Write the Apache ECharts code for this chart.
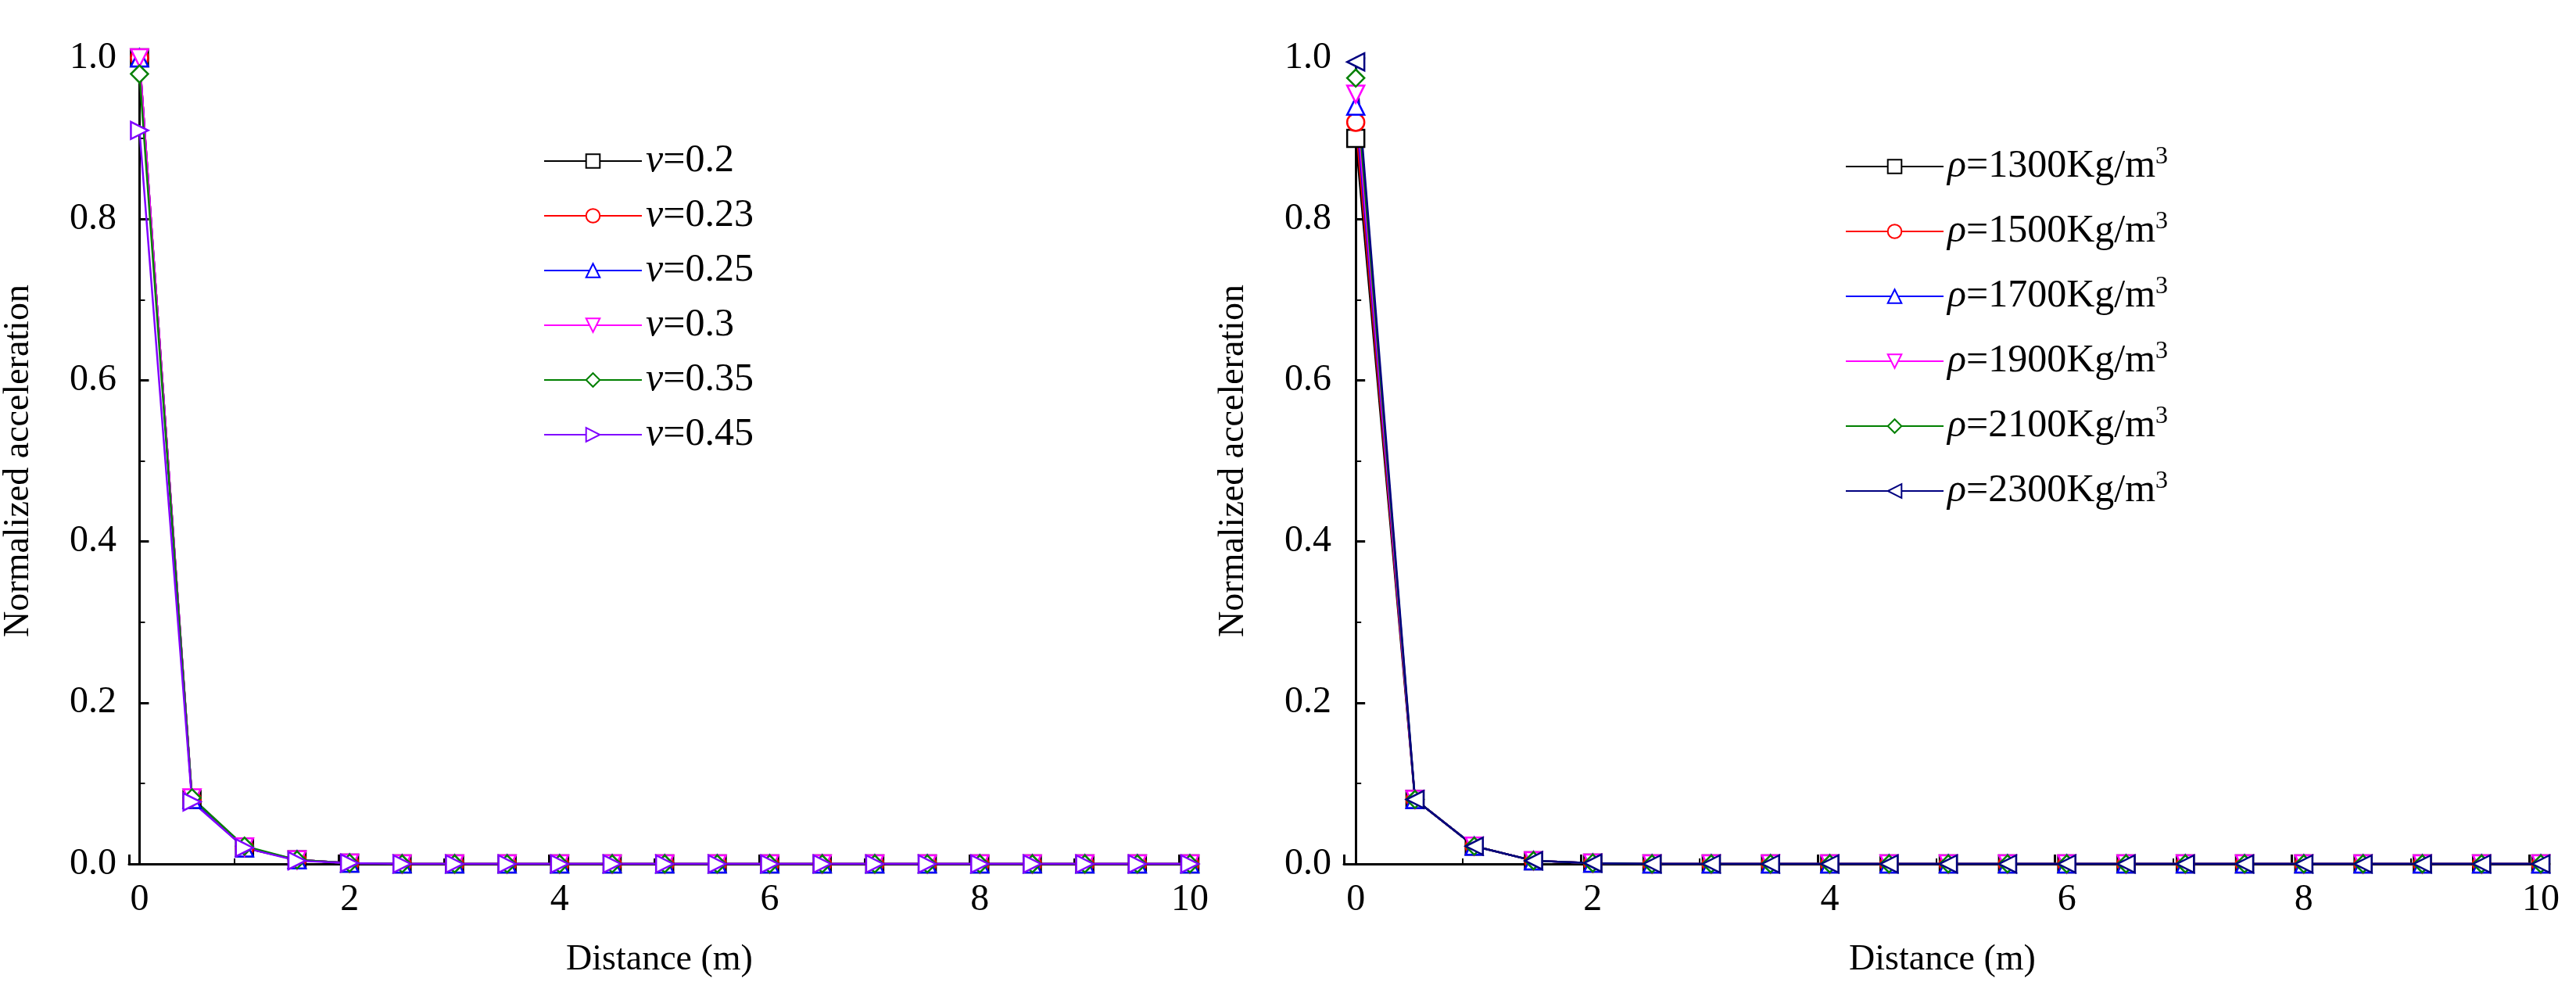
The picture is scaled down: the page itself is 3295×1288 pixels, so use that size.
<!DOCTYPE html>
<html><head><meta charset="utf-8">
<script src="https://cdn.jsdelivr.net/npm/echarts@6/dist/echarts.min.js"></script>
<style>html,body{margin:0;background:#fff}#c{width:3295px;height:1288px}</style>
</head><body><div id="c"></div>
<script>
const distances = [0,0.5,1,1.5,2,2.5,3,3.5,4,4.5,5,5.5,6,6.5,7,7.5,8,8.5,9,9.5,10];
const tail = [0,0,0,0,0,0,0,0,0,0,0,0,0,0,0,0];
const leftNames = ['0.2','0.23','0.25','0.3','0.35','0.45'];
const leftValues = [
  [1.0,0.08,0.02,0.005,0.001].concat(tail),
  [1.0,0.08,0.02,0.005,0.001].concat(tail),
  [1.0,0.08,0.02,0.005,0.001].concat(tail),
  [1.0,0.082,0.021,0.005,0.001].concat(tail),
  [0.98,0.082,0.022,0.005,0.001].concat(tail),
  [0.91,0.077,0.02,0.004,0.001].concat(tail)
];
const rightNames = ['1300','1500','1700','1900','2100','2300'];
const rightValues = [
  [0.90,0.08,0.022,0.004,0.001].concat(tail),
  [0.92,0.08,0.022,0.004,0.001].concat(tail),
  [0.94,0.08,0.022,0.004,0.001].concat(tail),
  [0.955,0.08,0.022,0.004,0.001].concat(tail),
  [0.975,0.08,0.022,0.004,0.001].concat(tail),
  [0.995,0.08,0.022,0.004,0.001].concat(tail)
];
const leftColors = ['#000000','#ff0000','#0000ff','#ff00ff','#008000','#8000ff'];
const rightColors = ['#000000','#ff0000','#0000ff','#ff00ff','#008000','#000080'];
const symbols = ['rect','circle','triangle','path://M0,0 L10,0 L5,9 Z','diamond','path://M0,0 L9,5 L0,10 Z'];
const rightSymbols = ['rect','circle','triangle','path://M0,0 L10,0 L5,9 Z','diamond','path://M9,0 L0,5 L9,10 Z'];

const font = 'Liberation Serif';
function xAxis(gi){return {type:'value',gridIndex:gi,min:-0.1,max:10,interval:2,
  name:'Distance (m)',nameLocation:'middle',nameGap:100,nameTextStyle:{fontFamily:font,fontSize:46,color:'#000'},
  axisLine:{lineStyle:{color:'#000',width:3}},axisTick:{inside:true,length:12,lineStyle:{width:3}},
  minorTick:{show:true,splitNumber:2,length:7,lineStyle:{color:'#000',width:2}},
  axisLabel:{fontFamily:font,fontSize:48,color:'#000',margin:22,customValues:[0,2,4,6,8,10]},
  splitLine:{show:false}};}
function yAxis(gi){return {type:'value',gridIndex:gi,min:0,max:1,interval:0.2,
  name:'Normalized acceleration',nameLocation:'middle',nameGap:118,nameTextStyle:{fontFamily:font,fontSize:46,color:'#000'},
  axisLine:{show:true,lineStyle:{color:'#000',width:3}},axisTick:{inside:true,length:12,lineStyle:{width:3}},
  minorTick:{show:true,splitNumber:2,length:7,lineStyle:{color:'#000',width:2}},
  axisLabel:{fontFamily:font,fontSize:48,color:'#000',margin:16,formatter:v=>v.toFixed(1)},splitLine:{show:false}};}

const series=[];
leftNames.forEach((n,i)=>series.push({name:'L'+i,type:'line',xAxisIndex:0,yAxisIndex:0,
  data:distances.map((d,k)=>[d,leftValues[i][k]]),symbol:symbols[i],symbolSize:22,
  lineStyle:{color:leftColors[i],width:2.5},itemStyle:{color:'#fff',borderColor:leftColors[i],borderWidth:2.5},color:leftColors[i]}));
rightNames.forEach((n,i)=>series.push({name:'R'+i,type:'line',xAxisIndex:1,yAxisIndex:1,
  data:distances.map((d,k)=>[d,rightValues[i][k]]),symbol:rightSymbols[i],symbolSize:22,
  lineStyle:{color:rightColors[i],width:2.5},itemStyle:{color:'#fff',borderColor:rightColors[i],borderWidth:2.5},color:rightColors[i]}));

const rich={i:{fontStyle:'italic',fontFamily:font,fontSize:50,color:'#000'},
  t:{fontFamily:font,fontSize:50,color:'#000'},
  s:{fontFamily:font,fontSize:32,color:'#000',padding:[0,0,24,0]}};
const chart=echarts.init(document.getElementById('c'));
chart.setOption({
  animation:false,backgroundColor:'#fff',textStyle:{fontFamily:font},
  grid:[{left:164,right:1773,top:74,height:1031},{left:1719,right:45,top:74,height:1031}],
  xAxis:[xAxis(0),xAxis(1)],yAxis:[yAxis(0),yAxis(1)],
  legend:[
    {data:leftNames.map((n,i)=>'L'+i),orient:'vertical',left:690,top:176,itemWidth:125,itemHeight:22,itemGap:20,
     formatter:nm=>'{i|v}{t|='+leftNames[+nm.slice(1)]+'}',textStyle:{fontFamily:font,rich:rich}},
    {data:rightNames.map((n,i)=>'R'+i),orient:'vertical',left:2355,top:180,itemWidth:125,itemHeight:22,itemGap:30,
     formatter:nm=>'{i|ρ}{t|='+rightNames[+nm.slice(1)]+'Kg/m}{s|3}',textStyle:{fontFamily:font,rich:rich}}
  ],
  series:series
});
</script></body></html>
